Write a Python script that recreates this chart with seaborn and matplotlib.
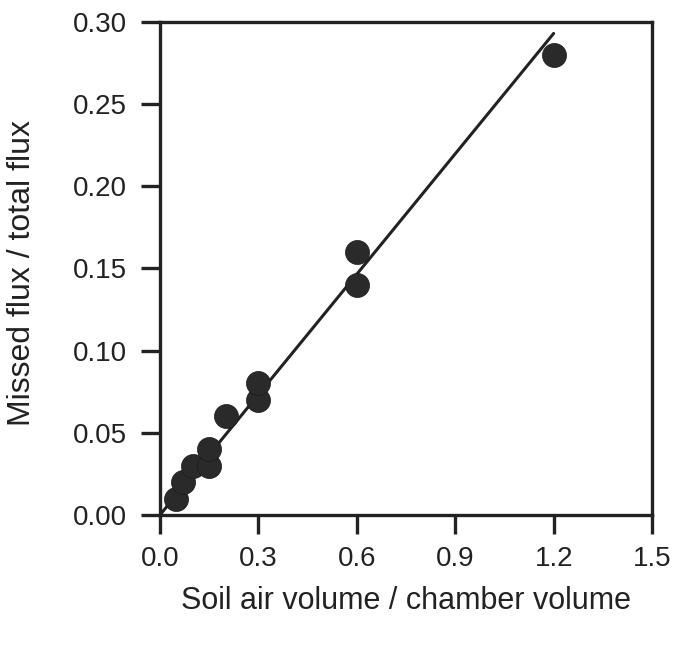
import matplotlib
matplotlib.use("Agg")
import matplotlib.pyplot as plt
import seaborn as sns
import numpy as np
import pandas as pd

sns.set_style("ticks")
plt.rcParams['font.family'] = ['Liberation Sans', 'DejaVu Sans']

x_vals = [0.05, 0.07, 0.10, 0.15, 0.15, 0.20, 0.30, 0.30, 0.60, 0.60, 1.20]
y_vals = [0.01, 0.02, 0.03, 0.03, 0.04, 0.06, 0.07, 0.08, 0.14, 0.16, 0.28]
fit_x = [0.0, 1.2]
fit_y = [0.0, 0.293]
x_ticks = [0.0, 0.3, 0.6, 0.9, 1.2, 1.5]
y_ticks = [0.00, 0.05, 0.10, 0.15, 0.20, 0.25, 0.30]

df = pd.DataFrame({"x": x_vals, "y": y_vals})
fit = pd.DataFrame({"x": fit_x, "y": fit_y})

fig = plt.figure(figsize=(6.75, 6.45), dpi=100)
ax = fig.add_axes([0.237, 0.2016, 0.729, 0.7644])

sns.lineplot(data=fit, x="x", y="y", ax=ax, color="#222222", linewidth=2.2)
sns.scatterplot(data=df, x="x", y="y", ax=ax, color="#2a2a2a", s=300,
                edgecolor="#1a1a1a", linewidth=0.5, zorder=3, clip_on=False)

ax.set_xlim(0, 1.5)
ax.set_ylim(0, 0.30)
ax.set_xticks(x_ticks)
ax.set_xticklabels([f"{v:.1f}" for v in x_ticks])
ax.set_yticks(y_ticks)
ax.set_yticklabels([f"{v:.2f}" for v in y_ticks])
for s in ax.spines.values():
    s.set_linewidth(2.4)
    s.set_color("#222222")
ax.tick_params(axis="both", direction="out", length=14, width=2.4, color="#222222",
               labelsize=20, labelcolor="#222222")
ax.tick_params(axis="x", pad=8)
ax.tick_params(axis="y", pad=10)
ax.set_xlabel("Soil air volume / chamber volume", fontsize=22, color="#222222", va="center")
ax.set_ylabel("Missed flux / total flux", fontsize=23, color="#222222", va="center")
ax.xaxis.set_label_coords(0.5, -0.175)
ax.yaxis.set_label_coords(-0.28, 0.49)

fig.savefig("out.png", dpi=100)
